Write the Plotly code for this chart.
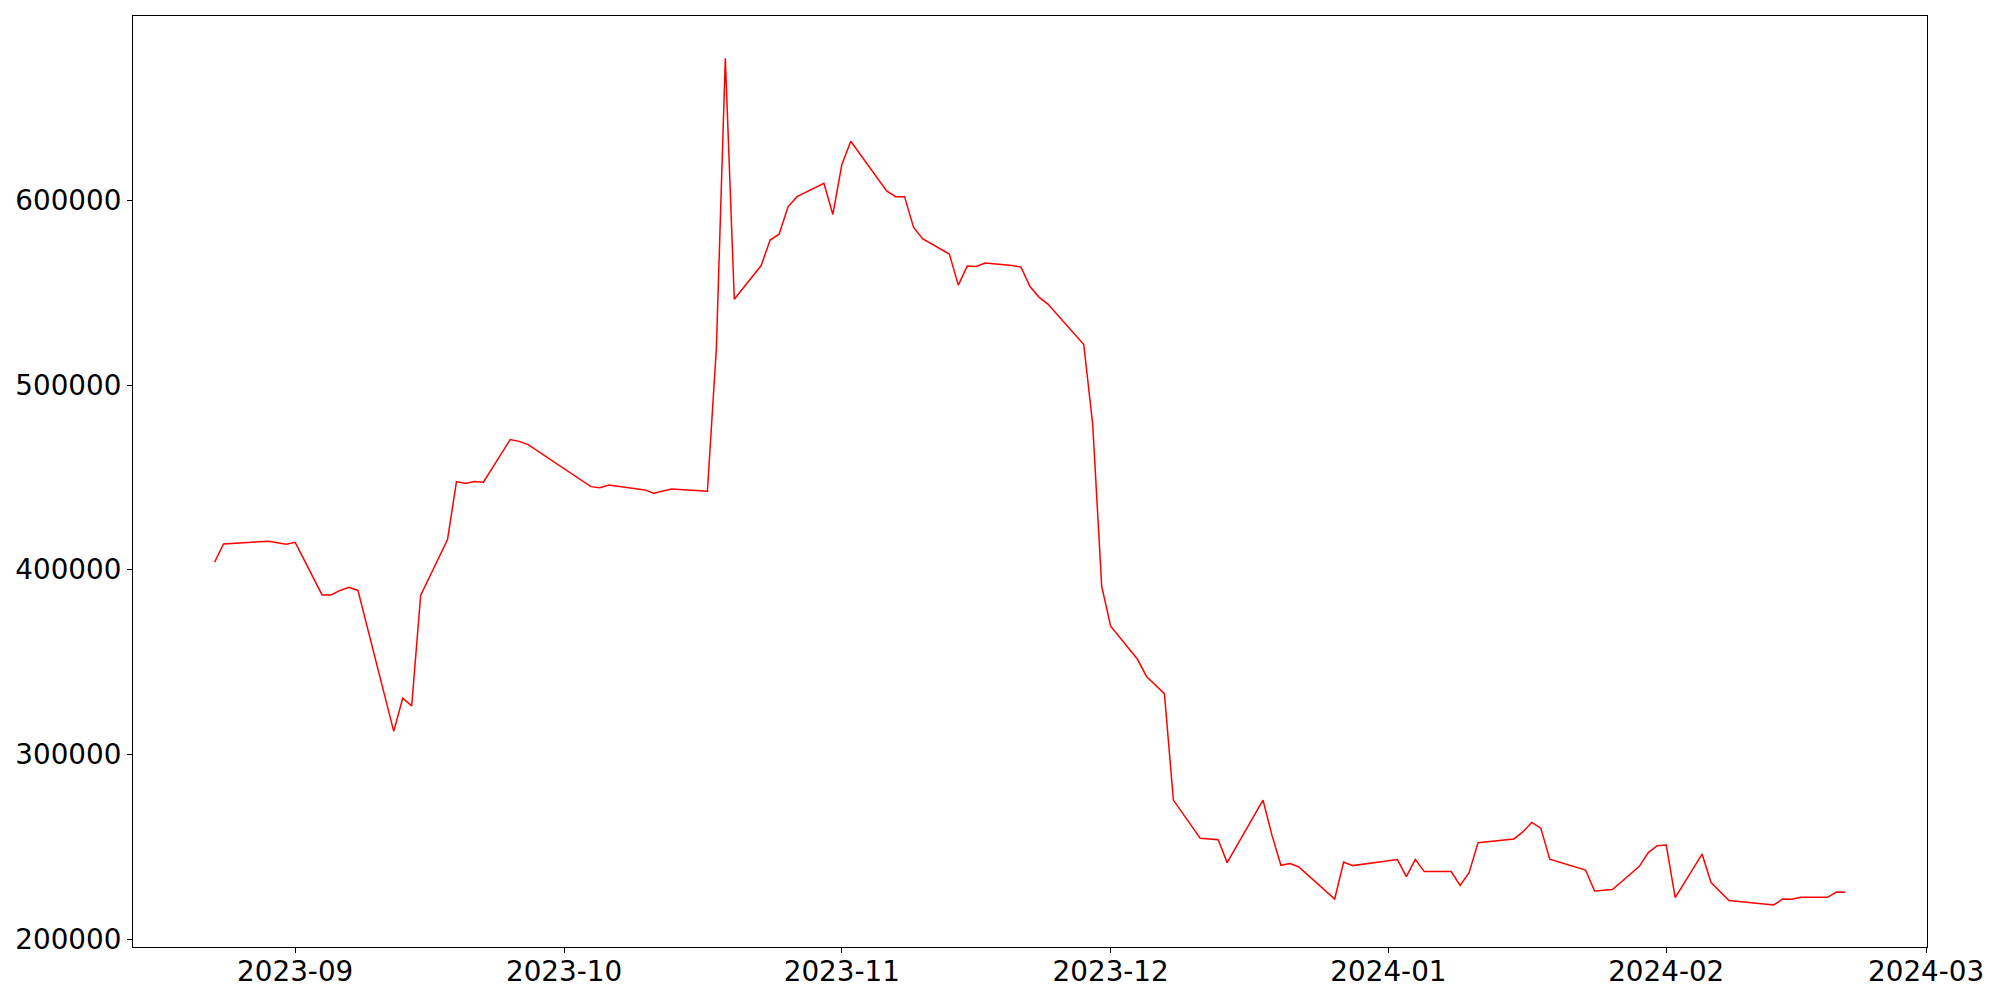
import plotly.graph_objects as go

dates = [
    "2023-08-23", "2023-08-24", "2023-08-29", "2023-08-31", "2023-09-01",
    "2023-09-04", "2023-09-05", "2023-09-06", "2023-09-07", "2023-09-08",
    "2023-09-12", "2023-09-13", "2023-09-14", "2023-09-15", "2023-09-18",
    "2023-09-19", "2023-09-20", "2023-09-21", "2023-09-22", "2023-09-25",
    "2023-09-26", "2023-09-27", "2023-10-04", "2023-10-05", "2023-10-06",
    "2023-10-10", "2023-10-11", "2023-10-13", "2023-10-17", "2023-10-18",
    "2023-10-19", "2023-10-20", "2023-10-23", "2023-10-24", "2023-10-25",
    "2023-10-26", "2023-10-27", "2023-10-30", "2023-10-31", "2023-11-01",
    "2023-11-02", "2023-11-06", "2023-11-07", "2023-11-08", "2023-11-09",
    "2023-11-10", "2023-11-13", "2023-11-14", "2023-11-15", "2023-11-16",
    "2023-11-17", "2023-11-20", "2023-11-21", "2023-11-22", "2023-11-23",
    "2023-11-24", "2023-11-28", "2023-11-29", "2023-11-30", "2023-12-01",
    "2023-12-04", "2023-12-05", "2023-12-07", "2023-12-08", "2023-12-11",
    "2023-12-13", "2023-12-14", "2023-12-18", "2023-12-19", "2023-12-20",
    "2023-12-21", "2023-12-22", "2023-12-26", "2023-12-27", "2023-12-28",
    "2024-01-02", "2024-01-03", "2024-01-04", "2024-01-05", "2024-01-08",
    "2024-01-09", "2024-01-10", "2024-01-11", "2024-01-15", "2024-01-16",
    "2024-01-17", "2024-01-18", "2024-01-19", "2024-01-23", "2024-01-24",
    "2024-01-26", "2024-01-29", "2024-01-30", "2024-01-31", "2024-02-01",
    "2024-02-02", "2024-02-05", "2024-02-06", "2024-02-08", "2024-02-13",
    "2024-02-14", "2024-02-15", "2024-02-16", "2024-02-19", "2024-02-20",
    "2024-02-21",
]

values = [
    404060, 414010, 415420, 413800, 414880,
    386360, 386360, 388800, 390530, 388800,
    312500, 330470, 326300, 386040, 416400,
    447780, 446750, 447780, 447460, 470560,
    469540, 467800, 445020, 444480, 445940,
    443240, 441400, 443780, 442480, 519910,
    677000, 546480, 564770, 578570, 581710,
    596540, 602060, 609310, 592420, 619320,
    632090, 605190, 602060, 602060, 585500,
    579280, 570940, 554170, 564450, 564230,
    566070, 564770, 563910, 553410, 547670,
    543890, 522020, 478520, 391180, 369480,
    351520, 342210, 332900, 275270, 254550,
    253840, 241400, 275270, 256280, 239940,
    240860, 239020, 221700, 241720, 239780,
    243020, 233820, 243180, 236530, 236530,
    229110, 235990, 252220, 254220, 258000,
    263150, 260060, 243300, 237390, 226030,
    226780, 239400, 246810, 250600, 250920,
    222460, 246050, 230580, 220830, 218450,
    221700, 221540, 222620, 222620, 225490,
    225320,
]

x_ticks = ["2023-09-01", "2023-10-01", "2023-11-01", "2023-12-01",
           "2024-01-01", "2024-02-01", "2024-03-01"]
y_ticks = [200000, 300000, 400000, 500000, 600000]

fig = go.Figure()
fig.add_trace(go.Scatter(
    x=dates, y=values, mode="lines",
    line=dict(color="#ff0000", width=1.5),
    showlegend=False,
))

font = dict(family="DejaVu Sans", size=27.8, color="black")

fig.update_layout(
    width=2000, height=1000,
    margin=dict(l=122, r=81, t=7, b=61),
    paper_bgcolor="white", plot_bgcolor="white",
    font=font,
    showlegend=False,
)
fig.update_xaxes(
    type="date",
    range=["2023-08-13 21:36", "2024-03-01 02:24"],
    tickvals=x_ticks, tickformat="%Y-%m",
    ticks="outside", ticklen=5, tickwidth=1, tickcolor="black",
    ticklabelstandoff=-5,
    showline=True, linecolor="black", linewidth=1, mirror=True,
    showgrid=False, zeroline=False, tickfont=font,
)
fig.update_yaxes(
    range=[195700, 699900],
    tickvals=y_ticks, tickformat="d",
    ticks="outside", ticklen=5, tickwidth=1, tickcolor="black",
    showline=True, linecolor="black", linewidth=1, mirror=True,
    showgrid=False, zeroline=False, tickfont=font,
)

fig.write_html("out.html")
